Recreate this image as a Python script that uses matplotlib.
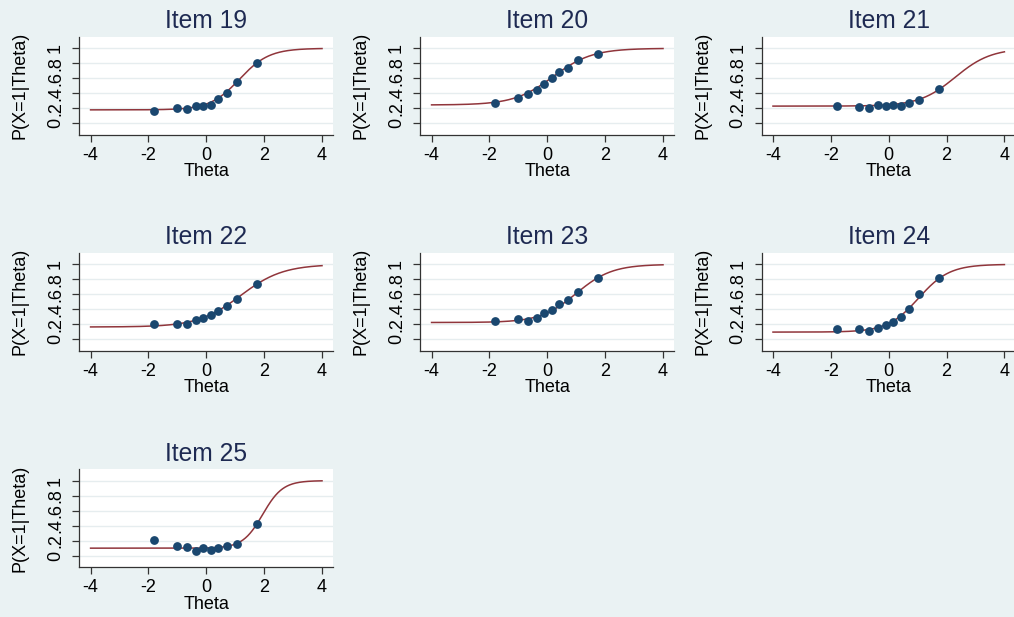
import numpy as np
import matplotlib
matplotlib.use("Agg")
import matplotlib.pyplot as plt

plt.rcParams['font.family'] = ['Liberation Sans', 'DejaVu Sans']

# item labels and fitted 3PL parameters (discrimination, difficulty, guessing)
items = ["Item 19", "Item 20", "Item 21", "Item 22", "Item 23", "Item 24", "Item 25"]
disc = [1.15, 0.87, 0.95, 0.80, 0.95, 1.10, 1.70]
diff = [1.15, 0.20, 2.30, 1.18, 1.00, 1.03, 1.95]
guess = [0.18, 0.245, 0.23, 0.165, 0.225, 0.097, 0.10]

# theta group midpoints and observed proportions
theta_obs = [-1.8, -1.03, -0.67, -0.37, -0.11, 0.15, 0.41, 0.71, 1.05, 1.75]
p19 = [0.17, 0.20, 0.19, 0.235, 0.235, 0.25, 0.33, 0.40, 0.55, 0.81]
p20 = [0.27, 0.34, 0.39, 0.44, 0.52, 0.60, 0.68, 0.74, 0.84, 0.93]
p21 = [0.235, 0.22, 0.21, 0.25, 0.23, 0.245, 0.23, 0.27, 0.31, 0.46]
p22 = [0.20, 0.20, 0.21, 0.26, 0.29, 0.33, 0.38, 0.45, 0.535, 0.74]
p23 = [0.24, 0.275, 0.25, 0.29, 0.345, 0.385, 0.47, 0.53, 0.63, 0.82]
p24 = [0.137, 0.133, 0.115, 0.155, 0.186, 0.226, 0.30, 0.40, 0.606, 0.82]
p25 = [0.207, 0.123, 0.12, 0.057, 0.097, 0.07, 0.097, 0.123, 0.15, 0.42]
observed = [p19, p20, p21, p22, p23, p24, p25]

yticks = [0, 0.2, 0.4, 0.6, 0.8, 1]
yticklabels = ["0", ".2", ".4", ".6", ".8", "1"]
xticks = [-4, -2, 0, 2, 4]

bg = "#eaf2f3"
navy = "#1a476f"
maroon = "#90353b"
title_col = "#1e2a52"
axis_col = "#333333"

W, H = 1014, 617
fig = plt.figure(figsize=(W / 100, H / 100), dpi=100, facecolor=bg)

lefts = [79.3, 420.3, 761.7]
tops = [36.7, 252.7, 469.0]
aw, ah = 254.0, 98.3

theta = np.linspace(-4, 4, 300)

for i, name in enumerate(items):
    r, c = divmod(i, 3)
    ax = fig.add_axes([lefts[c] / W, 1 - (tops[r] + ah) / H, aw / W, ah / H])
    ax.set_facecolor("white")

    curve = guess[i] + (1 - guess[i]) / (1 + np.exp(-1.7 * disc[i] * (theta - diff[i])))
    ax.plot(theta, curve, color=maroon, lw=1.1, zorder=2)
    ax.scatter(theta_obs, observed[i], s=40, color=navy, zorder=3, linewidths=0)

    ax.set_xlim(-4.39, 4.39)
    ax.set_ylim(-0.155, 1.155)
    ax.set_xticks(xticks)
    ax.set_xticklabels([str(t) for t in xticks])
    ax.set_yticks(yticks)
    ax.set_yticklabels(yticklabels, rotation=90, va="center")
    ax.grid(axis="y", color="#e6edef", lw=1.0, zorder=0)
    ax.set_axisbelow(True)

    for s in ["top", "right"]:
        ax.spines[s].set_visible(False)
    for s in ["left", "bottom"]:
        ax.spines[s].set_color(axis_col)
        ax.spines[s].set_linewidth(0.9)

    ax.tick_params(axis="both", colors=axis_col, labelcolor="black",
                   labelsize=13, length=5, width=0.9)
    ax.tick_params(axis="x", pad=3.5)
    ax.tick_params(axis="y", pad=6)

    ax.set_xlabel("Theta", fontsize=13)
    ax.xaxis.label.set_va("center")
    ax.xaxis.set_label_coords(0.5, -0.375)
    ax.set_ylabel("P(X=1|Theta)", fontsize=13)
    ax.yaxis.label.set_va("center")
    ax.yaxis.set_label_coords(-0.233, 0.5)

    ax.set_title(name, fontsize=17.7, color=title_col, pad=6)

fig.savefig("out.png", dpi=100, facecolor=bg)
